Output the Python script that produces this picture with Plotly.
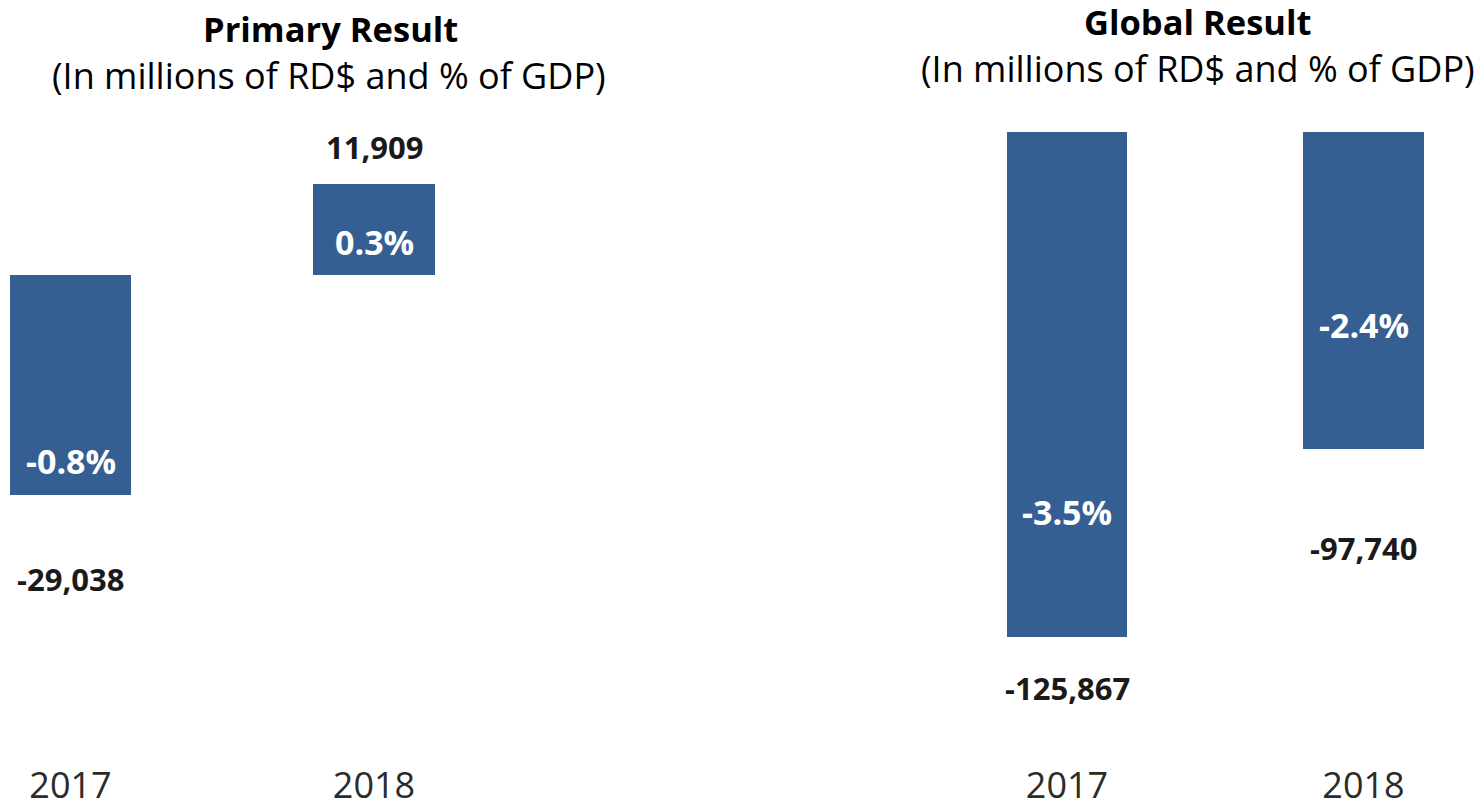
import plotly.graph_objects as go

# Fiscal results, millions of RD$ and share of GDP
years = ["2017", "2018"]
primary_values = [-29038, 11909]
primary_pct = ["-0.8%", "0.3%"]
global_values = [-125867, -97740]
global_pct = ["-3.5%", "-2.4%"]

BAR_COLOR = "#355F92"
FONT = "Open Sans"
W, H = 1480, 802


def px_to_paper_y(py):
    return (H - py) / H


fig = go.Figure()

fig.add_trace(go.Bar(
    x=years, y=primary_values, width=0.4,
    marker=dict(color=BAR_COLOR, line=dict(width=0)),
    xaxis="x", yaxis="y", hoverinfo="skip", showlegend=False,
))
fig.add_trace(go.Bar(
    x=years, y=global_values, width=0.405,
    marker=dict(color=BAR_COLOR, line=dict(width=0)),
    xaxis="x2", yaxis="y2", hoverinfo="skip", showlegend=False,
))

tick_font = dict(family=FONT, size=36, color="#2b2b2b")
common_x = dict(type="category", showgrid=False, zeroline=False, showline=False,
                ticks="", tickfont=tick_font, fixedrange=True, automargin=False)
common_y = dict(showgrid=False, zeroline=False, showline=False,
                showticklabels=False, ticks="", fixedrange=True, automargin=False)

fig.update_layout(
    width=W, height=H,
    margin=dict(l=0, r=0, t=0, b=0),
    paper_bgcolor="white", plot_bgcolor="white",
    bargap=0,
    xaxis=dict(common_x, domain=[0, 600 / W], range=[-0.2323, 1.7446]),
    yaxis=dict(common_y, domain=[px_to_paper_y(761), px_to_paper_y(110)],
               range=[-64013, 21645]),
    xaxis2=dict(common_x, domain=[760 / W, 1.0], range=[-1.0354, 1.3929],
                anchor="y2"),
    yaxis2=dict(common_y, domain=[px_to_paper_y(761), px_to_paper_y(132)],
                range=[-144418, -50313], anchor="x2"),
)

annotations = []

# Panel titles
titles = [
    ("Primary Result", 330, 28),
    ("Global Result", 1198, 22),
]
subtitles = [
    ("(In millions of RD$ and % of GDP)", 329, 75),
    ("(In millions of RD$ and % of GDP)", 1198, 68),
]
for text, cx, cy in titles:
    annotations.append(dict(
        text=f"<b>{text}</b>", x=cx / W, y=px_to_paper_y(cy), xref="paper", yref="paper",
        xanchor="center", yanchor="middle", showarrow=False,
        font=dict(family=FONT, size=34.5, color="#000000"),
    ))
for text, cx, cy in subtitles:
    annotations.append(dict(
        text=text, x=cx / W, y=px_to_paper_y(cy), xref="paper", yref="paper",
        xanchor="center", yanchor="middle", showarrow=False,
        font=dict(family=FONT, size=36, color="#000000"),
    ))

# Value labels outside the bars and GDP shares inside them
value_shift = {"x": [-84, 37], "x2": [-51, -99]}
pct_shift = {"x": [34, -58], "x2": [125, 124]}
panels = [("x", "y", primary_values, primary_pct), ("x2", "y2", global_values, global_pct)]
for xr, yr, vals, pcts in panels:
    for i, (v, p) in enumerate(zip(vals, pcts)):
        annotations.append(dict(
            text=f"<b>{v:,}</b>", x=i, y=v, xref=xr, yref=yr,
            xanchor="center", yanchor="middle", yshift=value_shift[xr][i],
            showarrow=False, font=dict(family=FONT, size=31, color="#1a1a1a"),
        ))
        annotations.append(dict(
            text=f"<b>{p}</b>", x=i, y=v, xref=xr, yref=yr,
            xanchor="center", yanchor="middle", yshift=pct_shift[xr][i],
            showarrow=False, font=dict(family=FONT, size=34, color="#ffffff"),
        ))

fig.update_layout(annotations=annotations)

fig.write_html("out.html", config={"displayModeBar": False})
